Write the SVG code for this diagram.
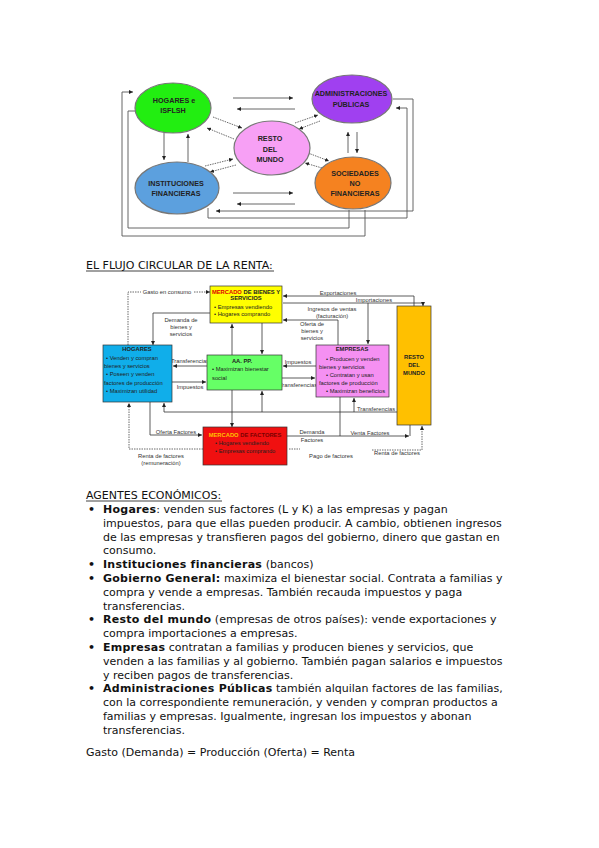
<svg xmlns="http://www.w3.org/2000/svg" width="599" height="848" viewBox="0 0 599 848">
<defs>
<marker id="a" viewBox="0 0 6 6" refX="6" refY="3" markerWidth="4" markerHeight="4" orient="auto" markerUnits="userSpaceOnUse"><path d="M0,0L6,3L0,6z" fill="#222"/></marker>
<style>
.bg{fill:#fff}
.ln{fill:none;stroke:#333;stroke-width:0.8}
.lt{fill:none;stroke:#555;stroke-width:0.9}
.ds{fill:none;stroke:#444;stroke-width:0.8;stroke-dasharray:1.5 1}
.el{stroke:#777;stroke-width:1.2}
.et{font-family:"Liberation Sans",Arial,sans-serif;font-weight:bold;font-size:7.2px;fill:#222;text-anchor:middle}
.bx{stroke:#333;stroke-width:0.7}
.bt{font-family:"Liberation Sans",Arial,sans-serif;font-size:5.8px;fill:#222}
.bb{font-family:"Liberation Sans",Arial,sans-serif;font-size:5.8px;font-weight:bold;fill:#222;text-anchor:middle}
.lb{font-family:"Liberation Sans",Arial,sans-serif;font-size:5.8px;fill:#333;text-anchor:middle}
.tx{font-family:"DejaVu Sans",Verdana,sans-serif;font-size:11px;fill:#111}
.b{font-weight:bold;letter-spacing:0.25px}
</style>
</defs>
<rect class="bg" width="599" height="848"/>

<!-- ===== Top diagram ===== -->
<g id="top-connectors">
<path class="lt" d="M365,210 V236 H122 V92 H133" marker-end="url(#a)"/>
<path class="lt" d="M349,210 V228 H128 V111 H136"/>
<path class="lt" d="M393,99 H413 V211 H216" marker-end="url(#a)"/>
<path class="lt" d="M208,208 V218 H407 V108 H396" marker-end="url(#a)"/>
<path class="lt" d="M233,98 H293" marker-end="url(#a)"/>
<path class="lt" d="M295,109 H237" marker-end="url(#a)"/>
<path class="lt" d="M233,193 H293" marker-end="url(#a)"/>
<path class="lt" d="M295,204 H237" marker-end="url(#a)"/>
<path class="lt" d="M164,133 V160" marker-end="url(#a)"/>
<path class="lt" d="M188,162 V134" marker-end="url(#a)"/>
<path class="lt" d="M348,153 V132" marker-end="url(#a)"/>
<path class="lt" d="M357,132 V153" marker-end="url(#a)"/>
<path class="ds" d="M213,117 L242,128" marker-end="url(#a)"/>
<path class="ds" d="M234,139 L207,128" marker-end="url(#a)"/>
<path class="ds" d="M295,123 L318,115" marker-end="url(#a)"/>
<path class="ds" d="M320,121 L299,129" marker-end="url(#a)"/>
<path class="ds" d="M205,166 L233,159" marker-end="url(#a)"/>
<path class="ds" d="M236,165 L210,172" marker-end="url(#a)"/>
<path class="ds" d="M308,153 L329,161" marker-end="url(#a)"/>
<path class="ds" d="M322,168 L305,163" marker-end="url(#a)"/>
</g>
<g id="hogares-e">
<ellipse class="el" cx="173" cy="108" rx="38" ry="25" fill="#22EE11"/>
<text class="et" x="174" y="102.5">HOGARES e</text>
<text class="et" x="173" y="112.5">ISFLSH</text>
</g>
<g id="admin-e">
<ellipse class="el" cx="352" cy="99" rx="40" ry="24" fill="#A040F0"/>
<text class="et" x="351" y="95.5">ADMINISTRACIONES</text>
<text class="et" x="351" y="106.5">PÚBLICAS</text>
</g>
<g id="resto-e">
<ellipse class="el" cx="272" cy="148" rx="38" ry="27" fill="#F7A0F5"/>
<text class="et" x="270" y="140.5">RESTO</text>
<text class="et" x="270" y="151.5">DEL</text>
<text class="et" x="270" y="161.5">MUNDO</text>
</g>
<g id="inst-e">
<ellipse class="el" cx="177" cy="188" rx="42" ry="26" fill="#5CA0DE"/>
<text class="et" x="176" y="185.5">INSTITUCIONES</text>
<text class="et" x="176" y="195.5">FINANCIERAS</text>
</g>
<g id="soc-e">
<ellipse class="el" cx="353" cy="183" rx="38" ry="26" fill="#F58220"/>
<text class="et" x="355" y="175.5">SOCIEDADES</text>
<text class="et" x="355" y="185.5">NO</text>
<text class="et" x="355" y="195.5">FINANCIERAS</text>
</g>

<!-- title -->
<text class="tx" x="86" y="269">EL FLUJO CIRCULAR DE LA RENTA:</text>
<line x1="86" y1="271" x2="274" y2="271" stroke="#111" stroke-width="0.8"/>

<!-- ===== Second diagram ===== -->
<g id="connectors">
<path class="ds" d="M128,345 V292 H141"/>
<path class="ds" d="M194,292 H210" marker-end="url(#a)"/>
<path class="ln" d="M210,313 H153 V345" marker-end="url(#a)"/>
<path class="ln" d="M232,355 V324" marker-end="url(#a)"/>
<path class="ln" d="M262,323 V354" marker-end="url(#a)"/>
<path class="ln" d="M414,306 V296 H283" marker-end="url(#a)"/>
<path class="ln" d="M283,303 H423 V306" marker-end="url(#a)"/>
<path class="ln" d="M338,345 V320 H283" marker-end="url(#a)"/>
<path class="ln" d="M368,303 V344" marker-end="url(#a)"/>
<path class="ln" d="M207,366 H173" marker-end="url(#a)"/>
<path class="ln" d="M172,382 H206" marker-end="url(#a)"/>
<path class="ln" d="M316,366 H283" marker-end="url(#a)"/>
<path class="ln" d="M282,378 H315" marker-end="url(#a)"/>
<path class="ln" d="M232,390 V427" marker-end="url(#a)"/>
<path class="ln" d="M397,412 H164 V403" marker-end="url(#a)"/>
<path class="ln" d="M262,412 V391" marker-end="url(#a)"/>
<path class="ln" d="M354,412 V398" marker-end="url(#a)"/>
<path class="ln" d="M150,402 V435 H202" marker-end="url(#a)"/>
<path class="ds" d="M203,449 H129 V403" marker-end="url(#a)"/>
<path class="ln" d="M287,436 H339"/>
<path class="ln" d="M340,397 V436" stroke="#d070d0"/>
<path class="ln" d="M339,436 H409" marker-end="url(#a)"/>
<path class="ln" d="M410,425 V436"/>
<path class="ds" d="M289,449 H300"/>
<path class="ds" d="M372,450 H422 V426" marker-end="url(#a)"/>
<text class="lb" x="167" y="294">Gasto en consumo</text>
<text class="lb" x="181" y="322">Demanda de</text>
<text class="lb" x="181" y="329">bienes y</text>
<text class="lb" x="181" y="336">servicios</text>
<text class="lb" x="338" y="294.5">Exportaciones</text>
<text class="lb" x="374" y="301.5">Importaciones</text>
<text class="lb" x="332" y="310.5">Ingresos de ventas</text>
<text class="lb" x="332" y="317.5">(facturación)</text>
<text class="lb" x="312" y="326">Oferta de</text>
<text class="lb" x="312" y="333">bienes y</text>
<text class="lb" x="312" y="340">servicios</text>
<text class="lb" x="190" y="362.5">Transferencias</text>
<text class="lb" x="190" y="389">Impuestos</text>
<text class="lb" x="298" y="363.5">Impuestos</text>
<text class="lb" x="298" y="386.5">Transferencias</text>
<text class="lb" x="376" y="410.5">Transferencias</text>
<text class="lb" x="176" y="433.5">Oferta Factores</text>
<text class="lb" x="312" y="433.5">Demanda</text>
<text class="lb" x="312" y="441.5">Factores</text>
<text class="lb" x="370" y="434.5">Venta Factores</text>
<text class="lb" x="161" y="457.5">Renta de factores</text>
<text class="lb" x="161" y="465">(remuneración)</text>
<text class="lb" x="331" y="458">Pago de factores</text>
<text class="lb" x="397" y="455">Renta de factores</text>
</g>

<g id="mercado-bienes">
<rect class="bx" x="210" y="286" width="72" height="37" fill="#FFFF00"/>
<text class="bb" x="246" y="293.5"><tspan fill="#E00000">MERCADO</tspan> DE BIENES Y</text>
<text class="bb" x="246" y="300">SERVICIOS</text>
<text class="bt" x="214" y="308.5">• Empresas vendiendo</text>
<text class="bt" x="214" y="316">• Hogares comprando</text>
</g>
<g id="hogares">
<rect class="bx" x="103" y="345" width="69" height="57" fill="#10AEEA"/>
<text class="bb" x="137" y="351">HOGARES</text>
<text class="bt" x="106" y="359.5">• Venden y compran</text>
<text class="bt" x="104" y="367.5">bienes y servicios</text>
<text class="bt" x="106" y="376">• Poseen y venden</text>
<text class="bt" x="104" y="384.5">factores de producción</text>
<text class="bt" x="106" y="393">• Maximizan utilidad</text>
</g>
<g id="aapp">
<rect class="bx" x="207" y="355" width="75" height="35" fill="#66FF66"/>
<text class="bb" x="242" y="362.5">AA. PP.</text>
<text class="bt" x="212" y="371">• Maximizan bienestar</text>
<text class="bt" x="212" y="379.5">social</text>
</g>
<g id="empresas">
<rect class="bx" x="316" y="345" width="73" height="52" fill="#F590F2"/>
<text class="bb" x="352" y="351">EMPRESAS</text>
<text class="bt" x="326" y="360.5">• Producen y venden</text>
<text class="bt" x="319" y="368.5">bienes y servicios</text>
<text class="bt" x="326" y="376.5">• Contratan y usan</text>
<text class="bt" x="319" y="384.5">factores de producción</text>
<text class="bt" x="326" y="393">• Maximizan beneficios</text>
</g>
<g id="resto">
<rect class="bx" x="397" y="306" width="34" height="119" fill="#FFC000"/>
<text class="bb" x="414" y="359">RESTO</text>
<text class="bb" x="414" y="367">DEL</text>
<text class="bb" x="414" y="375">MUNDO</text>
</g>
<g id="mercado-factores">
<rect class="bx" x="203" y="427" width="84" height="38" fill="#F01010"/>
<text class="bb" x="245" y="436.5"><tspan fill="#FFC000">MERCADO</tspan> <tspan fill="#7A0000">DE FACTORES</tspan></text>
<text class="bt" x="215" y="445" fill="#7A0000">• Hogares vendiendo</text>
<text class="bt" x="215" y="453" fill="#7A0000">• Empresas comprando</text>
</g>

<!-- ===== Text ===== -->
<g id="text">
<text class="tx" x="86" y="499">AGENTES ECONÓMICOS:</text>
<line x1="86" y1="501" x2="222" y2="501" stroke="#111" stroke-width="0.8"/>
<text class="tx b" x="88" y="513">•</text>
<text class="tx" x="103" y="513"><tspan class="b">Hogares</tspan>: venden sus factores (L y K) a las empresas y pagan</text>
<text class="tx" x="103" y="526.8">impuestos, para que ellas pueden producir. A cambio, obtienen ingresos</text>
<text class="tx" x="103" y="540.6">de las empresas y transfieren pagos del gobierno, dinero que gastan en</text>
<text class="tx" x="103" y="554.4">consumo.</text>
<text class="tx b" x="88" y="568.2">•</text>
<text class="tx" x="103" y="568.2"><tspan class="b">Instituciones financieras</tspan> (bancos)</text>
<text class="tx b" x="88" y="582">•</text>
<text class="tx" x="103" y="582"><tspan class="b">Gobierno General:</tspan> maximiza el bienestar social. Contrata a familias y</text>
<text class="tx" x="103" y="595.8">compra y vende a empresas. También recauda impuestos y paga</text>
<text class="tx" x="103" y="609.6">transferencias.</text>
<text class="tx b" x="88" y="623.4">•</text>
<text class="tx" x="103" y="623.4"><tspan class="b">Resto del mundo</tspan> (empresas de otros países): vende exportaciones y</text>
<text class="tx" x="103" y="637.2">compra importaciones a empresas.</text>
<text class="tx b" x="88" y="651">•</text>
<text class="tx" x="103" y="651"><tspan class="b">Empresas</tspan> contratan a familias y producen bienes y servicios, que</text>
<text class="tx" x="103" y="664.8">venden a las familias y al gobierno. También pagan salarios e impuestos</text>
<text class="tx" x="103" y="678.6">y reciben pagos de transferencias.</text>
<text class="tx b" x="88" y="692.4">•</text>
<text class="tx" x="103" y="692.4"><tspan class="b">Administraciones Públicas</tspan> también alquilan factores de las familias,</text>
<text class="tx" x="103" y="706.2">con la correspondiente remuneración, y venden y compran productos a</text>
<text class="tx" x="103" y="720">familias y empresas. Igualmente, ingresan los impuestos y abonan</text>
<text class="tx" x="103" y="733.8">transferencias.</text>
<text class="tx" x="86" y="756">Gasto (Demanda) = Producción (Oferta) = Renta</text>
</g>
</svg>
